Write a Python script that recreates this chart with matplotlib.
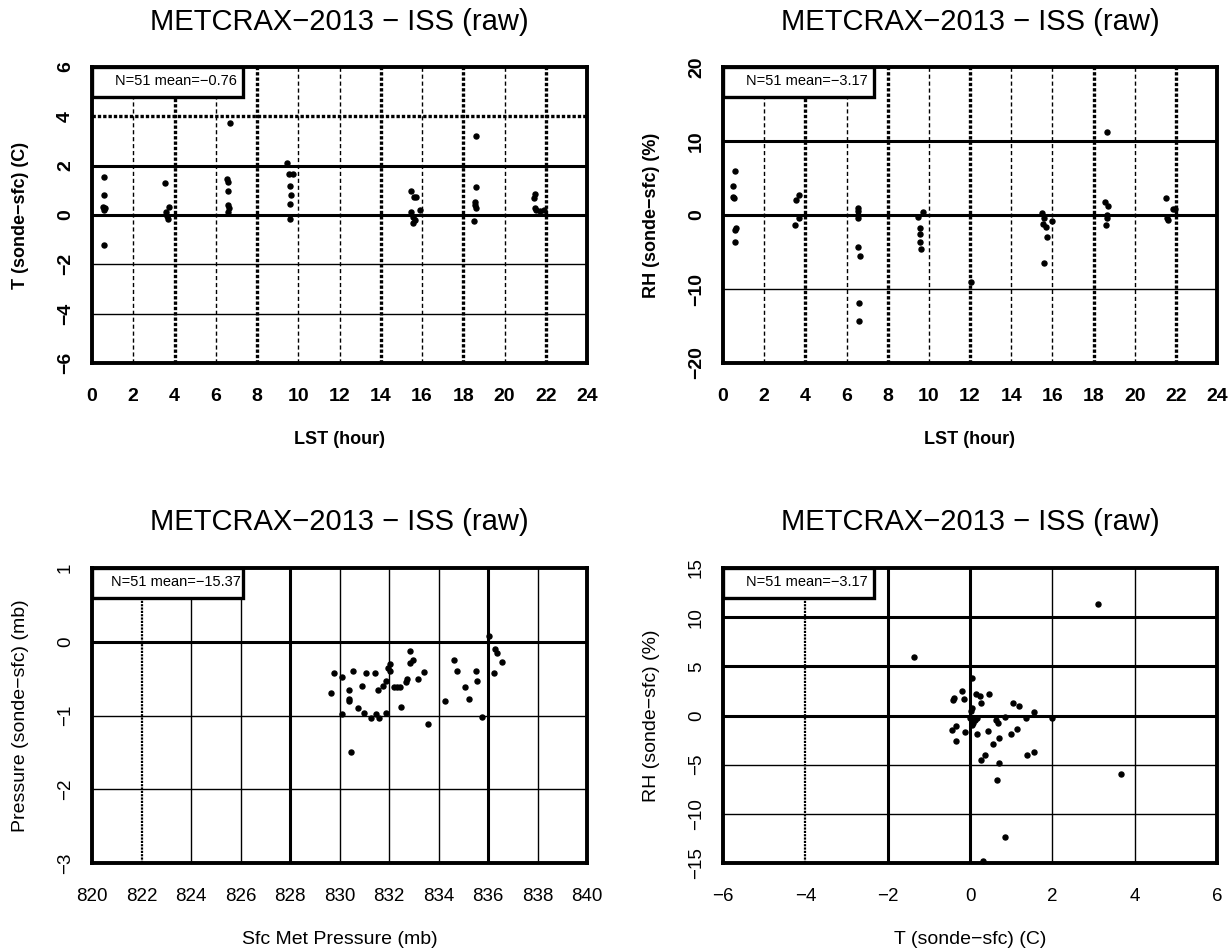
import matplotlib
matplotlib.use("Agg")
import matplotlib.pyplot as plt
from matplotlib.patches import Rectangle

plt.rcParams['font.family'] = ['Liberation Sans', 'DejaVu Sans']

TITLE = "METCRAX\u22122013 \u2212 ISS (raw)"

# panel 1: T difference vs local time
lst_t = [0.6, 0.6, 0.55, 0.65, 0.6, 0.6,
         3.54, 3.72, 3.6, 3.64, 3.67,
         6.68, 6.54, 6.57, 6.59, 6.59, 6.62, 6.59,
         9.47, 9.53, 9.74, 9.58, 9.63, 9.6, 9.6,
         15.49, 15.61, 15.73, 15.89, 15.49, 15.57, 15.57, 15.65,
         18.64, 18.64, 18.56, 18.59, 18.64, 18.53,
         21.5, 21.44, 21.47, 21.55, 21.7, 21.9]
dt = [1.53, 0.81, 0.34, 0.28, 0.2, -1.22,
      1.31, 0.31, 0.14, -0.03, -0.16,
      3.72, 1.46, 1.32, 0.97, 0.41, 0.30, 0.14,
      2.09, 1.66, 1.66, 1.16, 0.81, 0.45, -0.18,
      0.99, 0.74, 0.74, 0.19, 0.11, -0.07, -0.31, -0.2,
      3.22, 1.15, 0.54, 0.41, 0.27, -0.24,
      0.84, 0.68, 0.30, 0.2, 0.16, 0.2]

# panel 2: RH difference vs local time
lst_rh = [0.57, 0.5, 0.5, 0.53, 0.65, 0.6, 0.57,
          3.67, 3.54, 3.7, 3.5,
          6.54, 6.54, 6.54, 6.54, 6.54, 6.66, 6.59, 6.62,
          9.71, 9.46, 9.58, 9.58, 9.58, 9.63,
          12.06,
          15.52, 15.58, 15.96, 15.55, 15.68, 15.75, 15.6,
          18.64, 18.56, 18.69, 18.64, 18.64, 18.6,
          21.53, 21.85, 21.96, 21.56, 21.6]
drh = [5.99, 3.87, 2.39, 2.25, -1.8, -2.0, -3.69,
       2.7, 2.03, -0.36, -1.35,
       0.99, 0.54, 0.0, -0.36, -4.37, -5.54, -11.94, -14.28,
       0.36, -0.23, -1.8, -2.52, -3.69, -4.59,
       -9.1,
       0.23, -0.36, -0.81, -1.26, -1.58, -2.93, -6.49,
       11.17, 1.71, 1.26, 0.0, -0.36, -1.35,
       2.25, 0.81, 0.81, -0.36, -0.68]

# panel 3: pressure difference vs surface pressure
sfc_p = [829.77, 829.67, 830.11, 830.56, 831.06, 831.43, 831.95, 832.05, 832.06,
         831.88, 831.75, 831.57, 830.89, 830.38, 830.38, 830.4, 830.11, 830.76,
         830.97, 831.27, 831.47, 831.58, 831.86, 830.45, 832.86, 832.95, 832.84,
         833.41, 832.74, 832.70, 833.19, 832.22, 832.33, 832.43, 832.47, 833.59,
         834.61, 834.75, 834.27, 835.09, 835.23, 835.50, 835.54, 835.74, 836.04,
         836.28, 836.36, 836.55, 836.25]
dp = [-0.42, -0.70, -0.48, -0.39, -0.42, -0.42, -0.36, -0.30, -0.39,
      -0.53, -0.60, -0.65, -0.60, -0.65, -0.78, -0.81, -0.98, -0.90,
      -0.96, -1.03, -0.98, -1.04, -0.96, -1.49, -0.13, -0.25, -0.29,
      -0.41, -0.51, -0.55, -0.51, -0.62, -0.62, -0.62, -0.88, -1.11,
      -0.25, -0.39, -0.81, -0.62, -0.78, -0.39, -0.53, -1.02, 0.08,
      -0.10, -0.15, -0.27, -0.43]

# panel 4: RH difference vs T difference
dt_x = [0.04, -0.2, -0.39, -0.42, -0.14, 0.15, 0.24, 0.47, 0.27, 0.04, 0.02,
        1.05, 1.19, 1.55, 1.35, 2.0, 0.0, 0.04, 0.08, 0.12, 0.16, 0.06,
        0.63, 0.67, 0.85, -0.34, -0.44, -0.12, 0.18, 0.44, 0.99, 1.15,
        -0.34, 0.71, 0.56, 0.36, 0.27, 0.71, 1.39, 1.55, 0.65,
        -1.36, 3.1, 3.67, 0.84, 0.31]
drh_y = [3.86, 2.54, 1.76, 1.59, 1.69, 2.2, 2.0, 2.2, 1.32, 0.81, 0.47,
         1.32, 0.98, 0.31, -0.27, -0.27, -0.27, -0.54, -0.78, -0.44, -0.27, -1.0,
         -0.44, -0.78, -0.2, -1.05, -1.46, -1.69, -1.86, -1.53, -1.86, -1.36,
         -2.58, -2.24, -2.92, -4.0, -4.51, -4.85, -4.0, -3.76, -6.54,
         5.93, 11.38, -5.93, -12.4, -14.76]

legend_text = ["N=51 mean=\u22120.76", "N=51 mean=\u22123.17",
               "N=51 mean=\u221215.37", "N=51 mean=\u22123.17"]

GRID = {
    'thick': dict(color='black', lw=2.2, ls='-'),
    'thin': dict(color='black', lw=1.0, ls='-'),
    'dash': dict(color='black', lw=1.0, ls=(0, (3, 2))),
    'dot': dict(color='black', lw=2.4, ls=(0, (1, 0.6))),
    'fdot': dict(color='black', lw=1.6, ls=(0, (1, 0.5))),
}

fig = plt.figure(figsize=(12.3, 9.51), dpi=100)
W, H = 1230.0, 951.0


def make_axes(left, top, width, height):
    return fig.add_axes([left / W, 1 - (top + height) / H, width / W, height / H])


def setup(ax, xlim, ylim, xticks, yticks, vgrid, hgrid, legend, bold):
    weight = 'bold' if bold else 'normal'
    size = 14 if bold else 13.5
    ax.set_xlim(*xlim)
    ax.set_ylim(*ylim)
    ax.set_xticks(xticks)
    ax.set_yticks(yticks)
    ax.set_xticklabels([f"{v:g}".replace('-', '\u2212') for v in xticks],
                       fontsize=size, fontweight=weight)
    ax.set_yticklabels([f"{v:g}".replace('-', '\u2212') for v in yticks],
                       fontsize=size, fontweight=weight, rotation=90, va='center')
    ax.tick_params(axis='x', length=0, pad=18)
    ax.tick_params(axis='y', length=0, pad=13)
    for sp in ax.spines.values():
        sp.set_linewidth(2.8)
        sp.set_zorder(6)
    for v, kind in vgrid:
        ax.axvline(v, zorder=1, **GRID[kind])
    for v, kind in hgrid:
        ax.axhline(v, zorder=1, **GRID[kind])
    ax.add_patch(Rectangle((0, 0.9), 0.305, 0.1, transform=ax.transAxes,
                           facecolor='white', edgecolor='black', lw=2.4, zorder=4))
    ax.text(0.17, 0.952, legend, transform=ax.transAxes, ha='center', va='center',
            fontsize=10.5, zorder=5)


ax1 = make_axes(92, 67, 495, 296)
ax2 = make_axes(723, 67, 494, 296)
ax3 = make_axes(92, 568, 495, 295)
ax4 = make_axes(723, 568, 494, 295)

hours = list(range(0, 25, 2))
setup(ax1, (0, 24), (-6, 6), hours, list(range(-6, 7, 2)),
      [(2, 'dash'), (4, 'dot'), (6, 'dash'), (8, 'dot'), (10, 'dash'), (12, 'dash'),
       (14, 'dot'), (16, 'dash'), (18, 'dot'), (20, 'dash'), (22, 'dot')],
      [(4, 'dot'), (2, 'thick'), (0, 'thick'), (-2, 'thin'), (-4, 'thin')],
      legend_text[0], True)
setup(ax2, (0, 24), (-20, 20), hours, [-20, -10, 0, 10, 20],
      [(2, 'dash'), (4, 'dot'), (6, 'dash'), (8, 'dot'), (10, 'dash'), (12, 'dot'),
       (14, 'dash'), (16, 'dash'), (18, 'dot'), (20, 'dash'), (22, 'dot')],
      [(10, 'thick'), (0, 'thick'), (-10, 'thin')],
      legend_text[1], True)
setup(ax3, (820, 840), (-3, 1), list(range(820, 841, 2)), [-3, -2, -1, 0, 1],
      [(822, 'fdot'), (824, 'thin'), (826, 'thin'), (828, 'thick'), (830, 'thin'),
       (832, 'thin'), (834, 'thin'), (836, 'thick'), (838, 'thin')],
      [(0, 'thick'), (-1, 'thin'), (-2, 'thin')],
      legend_text[2], False)
setup(ax4, (-6, 6), (-15, 15), list(range(-6, 7, 2)), list(range(-15, 16, 5)),
      [(-4, 'fdot'), (-2, 'thick'), (0, 'thick'), (2, 'thin'), (4, 'thin')],
      [(10, 'thick'), (5, 'thick'), (0, 'thick'), (-5, 'thin'), (-10, 'thin')],
      legend_text[3], False)

for ax, x, y in [(ax1, lst_t, dt), (ax2, lst_rh, drh), (ax3, sfc_p, dp), (ax4, dt_x, drh_y)]:
    ax.plot(x, y, 'o', color='black', ms=3.6, zorder=3, clip_on=False)

for ax, top in [(ax1, 22), (ax2, 22), (ax3, 522), (ax4, 522)]:
    pos = ax.get_position()
    fig.text((pos.x0 + pos.x1) / 2, 1 - top / H, TITLE, ha='center', va='center',
             fontsize=21)

# top panels use heavier, slightly smaller axis labels
labels = [(ax1, "LST (hour)", "T (sonde\u2212sfc) (C)", 'bold', 13),
          (ax2, "LST (hour)", "RH (sonde\u2212sfc) (%)", 'bold', 13),
          (ax3, "Sfc Met Pressure (mb)", "Pressure (sonde\u2212sfc) (mb)", 'normal', 14),
          (ax4, "T (sonde\u2212sfc) (C)", "RH (sonde\u2212sfc) (%)", 'normal', 14)]
for ax, xl, yl, weight, size in labels:
    ax.set_xlabel(xl, fontsize=size, fontweight=weight)
    ax.set_ylabel(yl, fontsize=size, fontweight=weight)
    ax.xaxis.label.set_va('center')
    ax.yaxis.label.set_va('center')
    ax.xaxis.set_label_coords(0.5, -0.26)
    ax.yaxis.set_label_coords(-0.145, 0.5)

fig.savefig("out.png", dpi=100)
